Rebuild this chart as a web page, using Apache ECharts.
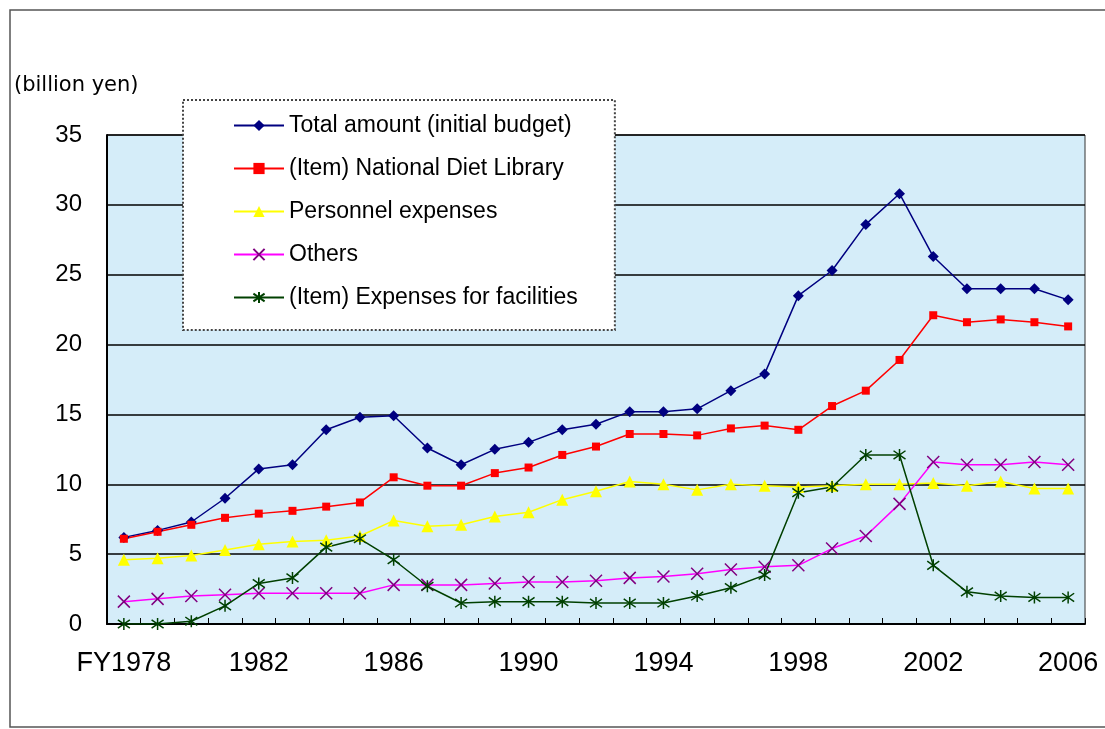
<!DOCTYPE html>
<html>
<head>
<meta charset="utf-8">
<script src="https://cdn.jsdelivr.net/npm/echarts@6/dist/echarts.min.js"></script>
<style>
  html, body { margin: 0; padding: 0; background: #fff; }
  #chart { width: 1105px; height: 729px; }
</style>
</head>
<body>
<div id="chart"></div>
<script>
const years = ['FY1978', '1979', '1980', '1981', '1982', '1983', '1984', '1985', '1986', '1987',
  '1988', '1989', '1990', '1991', '1992', '1993', '1994', '1995', '1996', '1997',
  '1998', '1999', '2000', '2001', '2002', '2003', '2004', '2005', '2006']

const totalAmount = [6.2, 6.7, 7.3, 9.0, 11.1, 11.4, 13.9, 14.8, 14.9, 12.6,
  11.4, 12.5, 13.0, 13.9, 14.3, 15.2, 15.2, 15.4, 16.7, 17.9,
  23.5, 25.3, 28.6, 30.8, 26.3, 24.0, 24.0, 24.0, 23.2]
const dietLibrary = [6.1, 6.6, 7.1, 7.6, 7.9, 8.1, 8.4, 8.7, 10.5, 9.9,
  9.9, 10.8, 11.2, 12.1, 12.7, 13.6, 13.6, 13.5, 14.0, 14.2,
  13.9, 15.6, 16.7, 18.9, 22.1, 21.6, 21.8, 21.6, 21.3]
const personnel = [4.6, 4.7, 4.9, 5.3, 5.7, 5.9, 6.0, 6.3, 7.4, 7.0,
  7.1, 7.7, 8.0, 8.9, 9.5, 10.2, 10.0, 9.6, 10.0, 9.9,
  9.8, 9.9, 10.0, 10.0, 10.1, 9.9, 10.2, 9.7, 9.7]
const others = [1.6, 1.8, 2.0, 2.1, 2.2, 2.2, 2.2, 2.2, 2.8, 2.8,
  2.8, 2.9, 3.0, 3.0, 3.1, 3.3, 3.4, 3.6, 3.9, 4.1,
  4.2, 5.4, 6.3, 8.6, 11.6, 11.4, 11.4, 11.6, 11.4]
const facilities = [0.0, 0.0, 0.2, 1.3, 2.9, 3.3, 5.5, 6.1, 4.6, 2.7,
  1.5, 1.6, 1.6, 1.6, 1.5, 1.5, 1.5, 2.0, 2.6, 3.5,
  9.4, 9.8, 12.1, 12.1, 4.2, 2.3, 2.0, 1.9, 1.9]

const yTicks = [0, 5, 10, 15, 20, 25, 30, 35]

const wideFont = 'DejaVu Sans'
const numFont = 'Liberation Sans'

let chart = echarts.init(document.getElementById('chart'))

function lineSeries(name, data, lineColor, symbol, size, markColor, stroke) {
  return {
    name: name,
    type: 'line',
    data: data,
    symbol: symbol,
    symbolSize: size,
    showSymbol: true,
    lineStyle: { color: lineColor, width: 1.5 },
    itemStyle: {
      color: markColor,
      borderColor: markColor,
      borderWidth: stroke ? 1.5 : 0
    },
    emphasis: { disabled: true },
    animation: false
  }
}

chart.setOption({
  animation: false,
  title: {
    text: '(billion yen)',
    left: 9,
    top: 70,
    textStyle: { fontFamily: wideFont, fontSize: 21, fontWeight: 'normal', color: '#000' }
  },
  graphic: [
    {
      type: 'rect',
      shape: { x: 10, y: 10, width: 1110, height: 717 },
      style: { fill: 'none', stroke: '#555', lineWidth: 1.5 },
      silent: true,
      z: -10
    }
  ],
  legend: {
    orient: 'vertical',
    left: 183,
    top: 100,
    padding: [14, 37, 21, 50],
    itemGap: 20,
    itemWidth: 50,
    itemHeight: 14,
    backgroundColor: '#fff',
    borderColor: '#444',
    borderWidth: 2,
    borderType: 'dotted',
    textStyle: { fontFamily: numFont, fontSize: 23, color: '#000', lineHeight: 23 },
    z: 10
  },
  grid: {
    left: 107,
    right: 20,
    top: 135,
    bottom: 105,
    show: true,
    backgroundColor: '#d5edf9',
    borderColor: '#333',
    borderWidth: 1
  },
  xAxis: {
    type: 'category',
    data: years,
    boundaryGap: true,
    axisLine: { lineStyle: { color: '#000', width: 2 } },
    axisTick: { show: true, inside: true, length: 6, interval: 0, lineStyle: { color: '#000' } },
    axisLabel: {
      interval: 3,
      margin: 26,
      fontFamily: numFont,
      fontSize: 27,
      color: '#000'
    },
    splitLine: { show: false }
  },
  yAxis: {
    type: 'value',
    min: yTicks[0],
    max: yTicks[yTicks.length - 1],
    interval: 5,
    axisLine: { show: true, lineStyle: { color: '#000', width: 2 } },
    axisTick: { show: false },
    axisLabel: { margin: 25, fontFamily: numFont, fontSize: 24, color: '#000' },
    splitLine: { lineStyle: { color: '#000', width: 1.5 } }
  },
  series: [
    lineSeries('Total amount (initial budget)', totalAmount, '#000080', 'diamond', 11, '#000080', false),
    lineSeries('(Item) National Diet Library', dietLibrary, '#ff0000', 'rect', 8, '#ff0000', false),
    lineSeries('Personnel expenses', personnel, '#ffff00', 'triangle', 12, '#ffff00', false),
    lineSeries('Others', others, '#ff00ff', 'path://M0,0L10,10M10,0L0,10', 12, '#800080', true),
    lineSeries('(Item) Expenses for facilities', facilities, '#004000', 'path://M5,0L5,10M0,1.5L10,8.5M10,1.5L0,8.5', 12, '#004000', true)
  ]
})
</script>
</body>
</html>
